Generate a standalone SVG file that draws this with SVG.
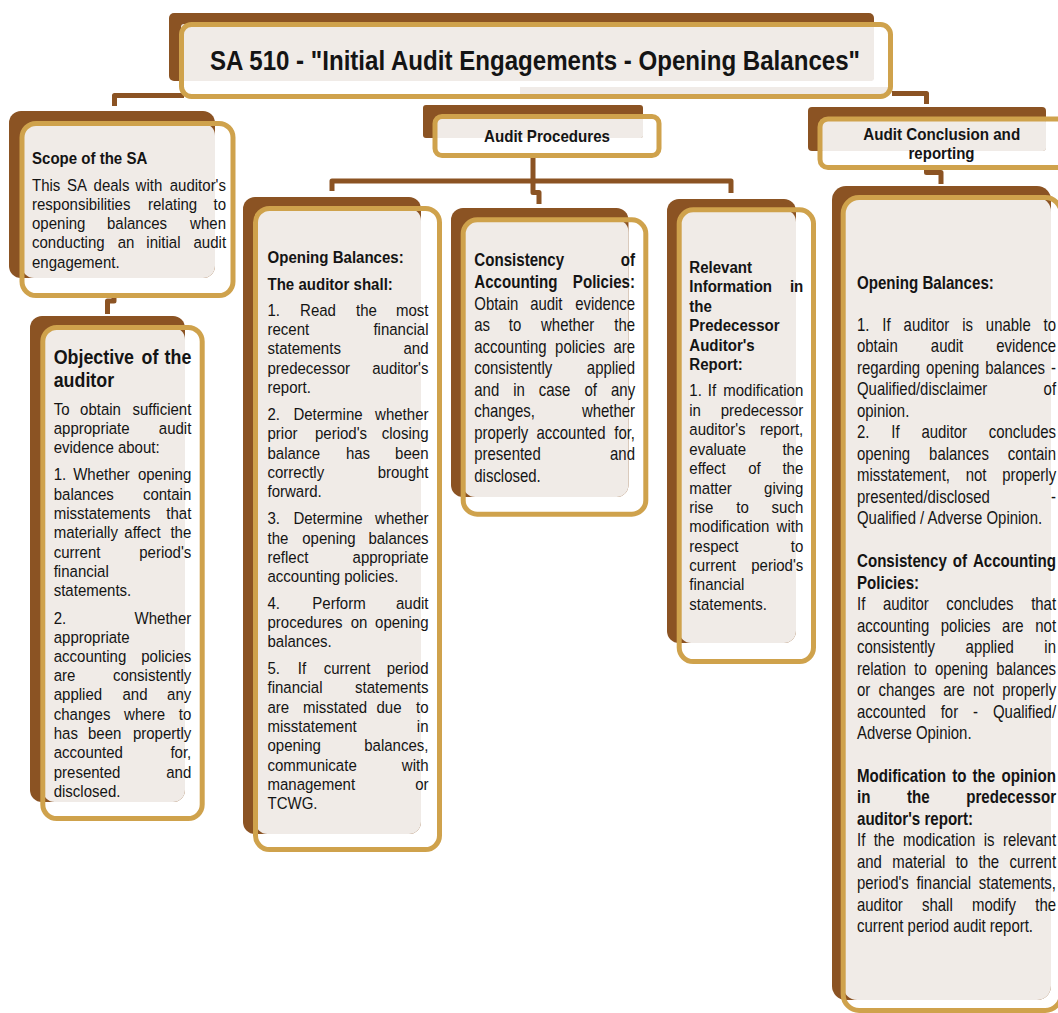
<svg xmlns="http://www.w3.org/2000/svg" width="1058" height="1013" viewBox="0 0 1058 1013">
<style>
.bn{fill:#8B5323}
.bg{fill:#F0EBE7}
.fr{fill:none;stroke:#CFA24C;stroke-width:5}
.cn{fill:none;stroke:#8B5323;stroke-width:5;stroke-linejoin:round}
text{font-family:"Liberation Sans",Arial,sans-serif;fill:#141414;transform-box:fill-box;transform-origin:0 50%}
.a{font-size:16.5px;transform:scaleX(.91)}
.ab{font-size:17px;font-weight:bold;transform:scaleX(.885)}
.k{font-size:18px;transform:scaleX(.83)}
.kb{font-size:18px;font-weight:bold;transform:scaleX(.84)}
.ob{font-size:21px;font-weight:bold;transform:scaleX(.85)}
.hd{font-size:17px;font-weight:bold;text-anchor:middle}
.r{text-anchor:end;transform-origin:100% 50%}
.m{text-anchor:middle;transform-origin:50% 50%}
</style>
<rect width="1058" height="1013" fill="#fff"/>
<g id="connectors">
<path class="cn" d="M114.5 106 V95.5 H184"/>
<path class="cn" d="M114 296 V301 H107.5 V314"/>
<path class="cn" d="M533 155 V181"/>
<path class="cn" d="M332 191 V181 H731 V193"/>
<path class="cn" d="M533 181 V192.5 H539 V204"/>
<path class="cn" d="M892 93.5 H926.5 V104"/>
<path class="cn" d="M926.5 168 V172.5 H941 V184"/>
</g>
<g id="n-title">
<rect class="bn" x="169" y="13" width="705" height="68" rx="5"/>
<rect class="bg" x="181" y="24" width="693" height="57" rx="3"/>
<rect class="bg" x="520" y="87" width="368" height="8"/>
<rect class="fr" x="181.5" y="24.5" width="709" height="72" rx="10"/>
<text x="210" y="69.5" font-size="28" font-weight="bold" textLength="650" lengthAdjust="spacingAndGlyphs">SA 510 - "Initial Audit Engagements - Opening Balances"</text>
</g>
<g id="n-procedures">
<rect class="bn" x="423" y="105" width="220" height="33" rx="3"/>
<rect class="bg" x="435" y="116.5" width="208" height="21.5" rx="2"/>
<rect class="fr" x="435" y="116.5" width="224" height="39" rx="7"/>
<text class="hd" x="547" y="141.5" textLength="126" lengthAdjust="spacingAndGlyphs">Audit Procedures</text>
</g>
<g id="n-conclusion">
<rect class="bn" x="808" y="107" width="238" height="44" rx="4"/>
<rect class="bg" x="820" y="119" width="226" height="32" rx="3"/>
<rect class="fr" x="820" y="119" width="245" height="48.5" rx="8"/>
<text class="hd" x="941.7" y="139.5" textLength="157" lengthAdjust="spacingAndGlyphs">Audit Conclusion and</text>
<text class="hd" x="941.5" y="158.5" textLength="66" lengthAdjust="spacingAndGlyphs">reporting</text>
</g>
<g id="n-scope">
<rect class="bn" x="9" y="111" width="206" height="167" rx="12"/>
<rect class="bg" x="22" y="123.5" width="193" height="154.5" rx="12"/>
<rect class="fr" x="22" y="123.5" width="211" height="172" rx="14"/>
<text class="ab" x="32" y="164">Scope of the SA</text>
<text class="a" x="32" y="191">This</text><text class="a m" x="77" y="191">SA</text><text class="a m" x="111.5" y="191">deals</text><text class="a m" x="149" y="191">with</text><text class="a r" x="226" y="191">auditor's</text>
<text class="a" x="32" y="210">responsibilities</text><text class="a m" x="172.6" y="210">relating</text><text class="a r" x="226" y="210">to</text>
<text class="a" x="32" y="229.5">opening</text><text class="a m" x="137" y="229.5">balances</text><text class="a r" x="226" y="229.5">when</text>
<text class="a" x="32" y="248.5">conducting</text><text class="a m" x="126" y="248.5">an</text><text class="a m" x="163.4" y="248.5">initial</text><text class="a r" x="226" y="248.5">audit</text>
<text class="a" x="32" y="268">engagement.</text>
</g>
<g id="n-objective">
<rect class="bn" x="30" y="316" width="155" height="486" rx="12"/>
<rect class="bg" x="42.8" y="327.5" width="142.2" height="474.5" rx="12"/>
<rect class="fr" x="42.8" y="327.5" width="159.4" height="491" rx="14"/>
<text class="ob" x="53.7" y="364">Objective</text><text class="ob m" x="150" y="364">of</text><text class="ob r" x="191.3" y="364">the</text>
<text class="ob" x="53.7" y="387">auditor</text>
<text class="a" x="53.7" y="415">To</text><text class="a m" x="100.5" y="415">obtain</text><text class="a r" x="191.3" y="415">sufficient</text>
<text class="a" x="53.7" y="434">appropriate</text><text class="a r" x="191.3" y="434">audit</text>
<text class="a" x="53.7" y="453.5">evidence about:</text>
<text class="a" x="53.7" y="480.5">1.</text><text class="a m" x="101.5" y="480.5">Whether</text><text class="a r" x="191.3" y="480.5">opening</text>
<text class="a" x="53.7" y="500">balances</text><text class="a r" x="191.3" y="500">contain</text>
<text class="a" x="53.7" y="519">misstatements</text><text class="a r" x="191.3" y="519">that</text>
<text class="a" x="53.7" y="538.5">materially</text><text class="a m" x="142.5" y="538.5">affect</text><text class="a r" x="191.3" y="538.5">the</text>
<text class="a" x="53.7" y="558">current</text><text class="a r" x="191.3" y="558">period's</text>
<text class="a" x="53.7" y="577">financial</text>
<text class="a" x="53.7" y="596.5">statements.</text>
<text class="a" x="53.7" y="624">2.</text><text class="a r" x="191.3" y="624">Whether</text>
<text class="a" x="53.7" y="643">appropriate</text>
<text class="a" x="53.7" y="662">accounting</text><text class="a r" x="191.3" y="662">policies</text>
<text class="a" x="53.7" y="681">are</text><text class="a r" x="191.3" y="681">consistently</text>
<text class="a" x="53.7" y="700.5">applied</text><text class="a m" x="135" y="700.5">and</text><text class="a r" x="191.3" y="700.5">any</text>
<text class="a" x="53.7" y="720">changes</text><text class="a m" x="144.6" y="720">where</text><text class="a r" x="191.3" y="720">to</text>
<text class="a" x="53.7" y="739">has</text><text class="a m" x="104.7" y="739">been</text><text class="a r" x="191.3" y="739">propertly</text>
<text class="a" x="53.7" y="758.5">accounted</text><text class="a r" x="191.3" y="758.5">for,</text>
<text class="a" x="53.7" y="778">presented</text><text class="a r" x="191.3" y="778">and</text>
<text class="a" x="53.7" y="797">disclosed.</text>
</g>
<g id="n-opening">
<rect class="bn" x="243" y="197" width="178" height="637" rx="12"/>
<rect class="bg" x="255.5" y="208.5" width="165.5" height="625.5" rx="12"/>
<rect class="fr" x="255.5" y="208.5" width="184" height="641" rx="14"/>
<text class="ab" x="267.5" y="263.5">Opening Balances:</text>
<text class="ab" x="267.5" y="290">The auditor shall:</text>
<text class="a" x="267.5" y="316.5">1.</text><text class="a m" x="318" y="316.5">Read</text><text class="a m" x="366.5" y="316.5">the</text><text class="a r" x="428.5" y="316.5">most</text>
<text class="a" x="267.5" y="335.5">recent</text><text class="a r" x="428.5" y="335.5">financial</text>
<text class="a" x="267.5" y="354.5">statements</text><text class="a r" x="428.5" y="354.5">and</text>
<text class="a" x="267.5" y="374">predecessor</text><text class="a r" x="428.5" y="374">auditor's</text>
<text class="a" x="267.5" y="393">report.</text>
<text class="a" x="267.5" y="420">2.</text><text class="a m" x="328" y="420">Determine</text><text class="a r" x="428.5" y="420">whether</text>
<text class="a" x="267.5" y="439.5">prior</text><text class="a m" x="341" y="439.5">period's</text><text class="a r" x="428.5" y="439.5">closing</text>
<text class="a" x="267.5" y="459">balance</text><text class="a m" x="358" y="459">has</text><text class="a r" x="428.5" y="459">been</text>
<text class="a" x="267.5" y="478">correctly</text><text class="a r" x="428.5" y="478">brought</text>
<text class="a" x="267.5" y="497.5">forward.</text>
<text class="a" x="267.5" y="524.5">3.</text><text class="a m" x="328" y="524.5">Determine</text><text class="a r" x="428.5" y="524.5">whether</text>
<text class="a" x="267.5" y="544">the</text><text class="a m" x="329" y="544">opening</text><text class="a r" x="428.5" y="544">balances</text>
<text class="a" x="267.5" y="563">reflect</text><text class="a r" x="428.5" y="563">appropriate</text>
<text class="a" x="267.5" y="582">accounting policies.</text>
<text class="a" x="267.5" y="609">4.</text><text class="a m" x="339" y="609">Perform</text><text class="a r" x="428.5" y="609">audit</text>
<text class="a" x="267.5" y="628">procedures</text><text class="a m" x="359" y="628">on</text><text class="a r" x="428.5" y="628">opening</text>
<text class="a" x="267.5" y="647.5">balances.</text>
<text class="a" x="267.5" y="674">5.</text><text class="a m" x="302" y="674">If</text><text class="a m" x="347" y="674">current</text><text class="a r" x="428.5" y="674">period</text>
<text class="a" x="267.5" y="693.5">financial</text><text class="a r" x="428.5" y="693.5">statements</text>
<text class="a" x="267.5" y="713">are</text><text class="a m" x="335" y="713">misstated</text><text class="a m" x="389" y="713">due</text><text class="a r" x="428.5" y="713">to</text>
<text class="a" x="267.5" y="732">misstatement</text><text class="a r" x="428.5" y="732">in</text>
<text class="a" x="267.5" y="751.5">opening</text><text class="a r" x="428.5" y="751.5">balances,</text>
<text class="a" x="267.5" y="771">communicate</text><text class="a r" x="428.5" y="771">with</text>
<text class="a" x="267.5" y="790">management</text><text class="a r" x="428.5" y="790">or</text>
<text class="a" x="267.5" y="809.5">TCWG.</text>
</g>
<g id="n-consistency">
<rect class="bn" x="451" y="208" width="177.5" height="289" rx="12"/>
<rect class="bg" x="463.2" y="219.8" width="165.3" height="277.2" rx="12"/>
<rect class="fr" x="463.2" y="219.8" width="182.6" height="294.4" rx="14"/>
<text class="kb" x="474.3" y="266.5">Consistency</text><text class="kb r" x="635" y="266.5">of</text>
<text class="kb" x="474.3" y="288.5">Accounting</text><text class="kb r" x="635" y="288.5">Policies:</text>
<text class="k" x="474.3" y="310">Obtain</text><text class="k m" x="546.3" y="310">audit</text><text class="k r" x="635" y="310">evidence</text>
<text class="k" x="474.3" y="331.5">as</text><text class="k m" x="515" y="331.5">to</text><text class="k m" x="567.7" y="331.5">whether</text><text class="k r" x="635" y="331.5">the</text>
<text class="k" x="474.3" y="353">accounting</text><text class="k m" x="580" y="353">policies</text><text class="k r" x="635" y="353">are</text>
<text class="k" x="474.3" y="374.5">consistently</text><text class="k r" x="635" y="374.5">applied</text>
<text class="k" x="474.3" y="396">and</text><text class="k m" x="519" y="396">in</text><text class="k m" x="554.6" y="396">case</text><text class="k m" x="590.6" y="396">of</text><text class="k r" x="635" y="396">any</text>
<text class="k" x="474.3" y="417.5">changes,</text><text class="k r" x="635" y="417.5">whether</text>
<text class="k" x="474.3" y="439">properly</text><text class="k m" x="571" y="439">accounted</text><text class="k r" x="635" y="439">for,</text>
<text class="k" x="474.3" y="460.5">presented</text><text class="k r" x="635" y="460.5">and</text>
<text class="k" x="474.3" y="482">disclosed.</text>
</g>
<g id="n-predecessor">
<rect class="bn" x="667" y="199" width="129" height="444" rx="12"/>
<rect class="bg" x="679.2" y="209.8" width="116.8" height="433.2" rx="12"/>
<rect class="fr" x="679.2" y="209.8" width="134.3" height="451.7" rx="14"/>
<text class="ab" x="689.3" y="273">Relevant</text>
<text class="ab" x="689.3" y="292.5">Information</text><text class="ab r" x="803.3" y="292.5">in</text>
<text class="ab" x="689.3" y="312">the</text>
<text class="ab" x="689.3" y="331.5">Predecessor</text>
<text class="ab" x="689.3" y="351">Auditor's</text>
<text class="ab" x="689.3" y="370.5">Report:</text>
<text class="a" x="689.3" y="396.5">1.</text><text class="a m" x="712" y="396.5">If</text><text class="a r" x="803.3" y="396.5">modification</text>
<text class="a" x="689.3" y="416">in</text><text class="a r" x="803.3" y="416">predecessor</text>
<text class="a" x="689.3" y="435.5">auditor's</text><text class="a r" x="803.3" y="435.5">report,</text>
<text class="a" x="689.3" y="455">evaluate</text><text class="a r" x="803.3" y="455">the</text>
<text class="a" x="689.3" y="474.5">effect</text><text class="a m" x="754.5" y="474.5">of</text><text class="a r" x="803.3" y="474.5">the</text>
<text class="a" x="689.3" y="494">matter</text><text class="a r" x="803.3" y="494">giving</text>
<text class="a" x="689.3" y="513">rise</text><text class="a m" x="742.5" y="513">to</text><text class="a r" x="803.3" y="513">such</text>
<text class="a" x="689.3" y="532.5">modification</text><text class="a r" x="803.3" y="532.5">with</text>
<text class="a" x="689.3" y="552">respect</text><text class="a r" x="803.3" y="552">to</text>
<text class="a" x="689.3" y="571">current</text><text class="a r" x="803.3" y="571">period's</text>
<text class="a" x="689.3" y="590.5">financial</text>
<text class="a" x="689.3" y="610">statements.</text>
</g>
<g id="n-reporting">
<rect class="bn" x="832" y="186" width="219" height="814" rx="14"/>
<rect class="bg" x="843.2" y="197.5" width="207.8" height="802.5" rx="14"/>
<rect class="fr" x="843.2" y="197.5" width="218" height="813" rx="16"/>
<text class="kb" x="857" y="289">Opening Balances:</text>
<text class="k" x="857" y="331">1.</text><text class="k m" x="886.5" y="331">If</text><text class="k m" x="926.4" y="331">auditor</text><text class="k m" x="967.6" y="331">is</text><text class="k m" x="1008.3" y="331">unable</text><text class="k r" x="1056" y="331">to</text>
<text class="k" x="857" y="352.5">obtain</text><text class="k m" x="947" y="352.5">audit</text><text class="k r" x="1056" y="352.5">evidence</text>
<text class="k" x="857" y="374">regarding</text><text class="k m" x="952.7" y="374">opening</text><text class="k m" x="1015.2" y="374">balances</text><text class="k r" x="1056" y="374">-</text>
<text class="k" x="857" y="395.5">Qualified/disclaimer</text><text class="k r" x="1056" y="395.5">of</text>
<text class="k" x="857" y="417">opinion.</text>
<text class="k" x="857" y="438.5">2.</text><text class="k m" x="895.4" y="438.5">If</text><text class="k m" x="944.2" y="438.5">auditor</text><text class="k r" x="1056" y="438.5">concludes</text>
<text class="k" x="857" y="460">opening</text><text class="k m" x="959" y="460">balances</text><text class="k r" x="1056" y="460">contain</text>
<text class="k" x="857" y="481.5">misstatement,</text><text class="k m" x="976" y="481.5">not</text><text class="k r" x="1056" y="481.5">properly</text>
<text class="k" x="857" y="503">presented/disclosed</text><text class="k r" x="1056" y="503">-</text>
<text class="k" x="857" y="524.5">Qualified / Adverse Opinion.</text>
<text class="kb" x="857" y="567.5">Consistency</text><text class="kb m" x="959.9" y="567.5">of</text><text class="kb r" x="1056" y="567.5">Accounting</text>
<text class="kb" x="857" y="589">Policies:</text>
<text class="k" x="857" y="610.5">If</text><text class="k m" x="905.8" y="610.5">auditor</text><text class="k m" x="979.8" y="610.5">concludes</text><text class="k r" x="1056" y="610.5">that</text>
<text class="k" x="857" y="632">accounting</text><text class="k m" x="965.7" y="632">policies</text><text class="k m" x="1012.9" y="632">are</text><text class="k r" x="1056" y="632">not</text>
<text class="k" x="857" y="653.5">consistently</text><text class="k m" x="989.7" y="653.5">applied</text><text class="k r" x="1056" y="653.5">in</text>
<text class="k" x="857" y="675">relation</text><text class="k m" x="920.5" y="675">to</text><text class="k m" x="961.5" y="675">opening</text><text class="k r" x="1056" y="675">balances</text>
<text class="k" x="857" y="696.5">or</text><text class="k m" x="906.7" y="696.5">changes</text><text class="k m" x="954" y="696.5">are</text><text class="k m" x="983.4" y="696.5">not</text><text class="k r" x="1056" y="696.5">properly</text>
<text class="k" x="857" y="718">accounted</text><text class="k m" x="949.4" y="718">for</text><text class="k m" x="975.4" y="718">-</text><text class="k r" x="1056" y="718">Qualified/</text>
<text class="k" x="857" y="739.5">Adverse Opinion.</text>
<text class="kb" x="857" y="782">Modification</text><text class="kb m" x="959.3" y="782">to</text><text class="kb m" x="983.8" y="782">the</text><text class="kb r" x="1056" y="782">opinion</text>
<text class="kb" x="857" y="803.5">in</text><text class="kb m" x="918.3" y="803.5">the</text><text class="kb r" x="1056" y="803.5">predecessor</text>
<text class="kb" x="857" y="825">auditor's report:</text>
<text class="k" x="857" y="846.5">If</text><text class="k m" x="884.1" y="846.5">the</text><text class="k m" x="939.1" y="846.5">modication</text><text class="k m" x="989.1" y="846.5">is</text><text class="k r" x="1056" y="846.5">relevant</text>
<text class="k" x="857" y="868">and</text><text class="k m" x="918.8" y="868">material</text><text class="k m" x="961.9" y="868">to</text><text class="k m" x="988.8" y="868">the</text><text class="k r" x="1056" y="868">current</text>
<text class="k" x="857" y="889.5">period's</text><text class="k m" x="943.8" y="889.5">financial</text><text class="k r" x="1056" y="889.5">statements,</text>
<text class="k" x="857" y="911">auditor</text><text class="k m" x="937.4" y="911">shall</text><text class="k m" x="994" y="911">modify</text><text class="k r" x="1056" y="911">the</text>
<text class="k" x="857" y="932.5">current period audit report.</text>
</g>
</svg>
